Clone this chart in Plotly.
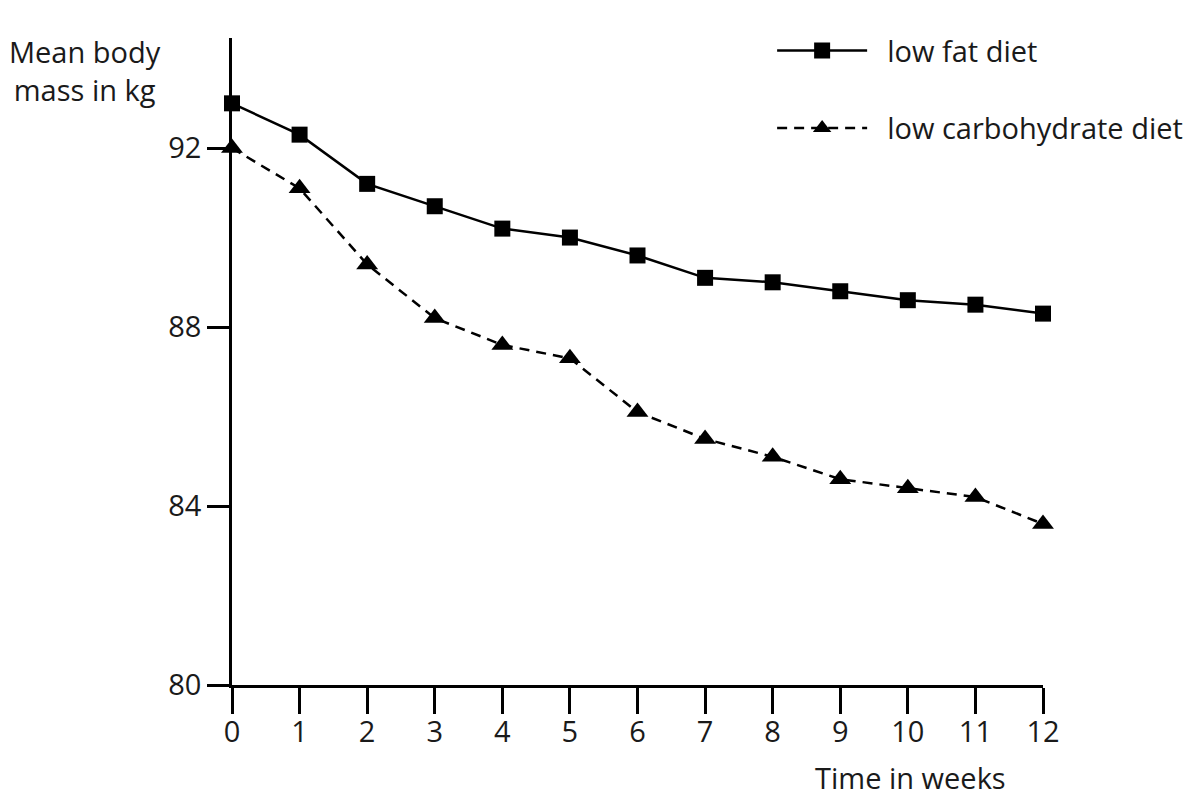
import plotly.graph_objects as go

weeks = list(range(0, 13))
low_fat = [93.0, 92.3, 91.2, 90.7, 90.2, 90.0, 89.6, 89.1, 89.0, 88.8, 88.6, 88.5, 88.3]
low_carb = [92.0, 91.1, 89.4, 88.2, 87.6, 87.3, 86.1, 85.5, 85.1, 84.6, 84.4, 84.2, 83.6]
y_ticks = [80, 84, 88, 92]
x_ticks = weeks

FONT = "Open Sans"
FS = 29

fig = go.Figure()
fig.add_trace(go.Scatter(
    x=weeks, y=low_fat, mode="lines+markers", name="\u00a0\u00a0low fat diet",
    legendgroup="a", cliponaxis=False,
    line=dict(color="black", width=2.5),
    marker=dict(symbol="square", size=16, color="black"),
))
fig.add_trace(go.Scatter(
    x=weeks, y=low_carb, mode="lines+markers", name="\u00a0\u00a0low carbohydrate diet",
    legendgroup="b", cliponaxis=False,
    line=dict(color="black", width=2.5, dash="10px,7px"),
    marker=dict(symbol="triangle-up", size=19, color="black"),
))

fig.update_layout(
    width=1192, height=799,
    margin=dict(l=224, r=152, t=30, b=122),
    paper_bgcolor="white", plot_bgcolor="white",
    font=dict(family=FONT, size=FS, color="#1a1a1a"),
    showlegend=True,
    legend=dict(x=0.666, xanchor="left", y=1.02, yanchor="top",
                xref="paper", yref="paper",
                bgcolor="rgba(0,0,0,0)", itemwidth=90,
                font=dict(size=FS), tracegroupgap=37),
    annotations=[
        dict(text="Mean body<br>mass in kg", xref="paper", yref="paper",
             x=-0.1818, y=0.9505, xanchor="center", yanchor="middle",
             showarrow=False, align="center", font=dict(size=FS)),
        dict(text="Time in weeks", xref="paper", yref="paper",
             x=0.8366, y=-0.143, xanchor="center", yanchor="middle",
             showarrow=False, font=dict(size=FS)),
    ],
)
fig.update_xaxes(range=[0, 12], tickvals=x_ticks, ticks="outside", ticklen=26,
                 tickwidth=2.5, tickcolor="black", showline=True, linecolor="black",
                 linewidth=2.5, showgrid=False, zeroline=False,
                 ticklabelstandoff=-7,
                 tickfont=dict(size=FS))
fig.update_yaxes(range=[80, 94.46], tickvals=y_ticks, ticks="outside", ticklen=22,
                 tickwidth=2.5, tickcolor="black", showline=True, linecolor="black",
                 linewidth=2.5, showgrid=False, zeroline=False,
                 tickfont=dict(size=FS))

fig.write_html("out.html")
